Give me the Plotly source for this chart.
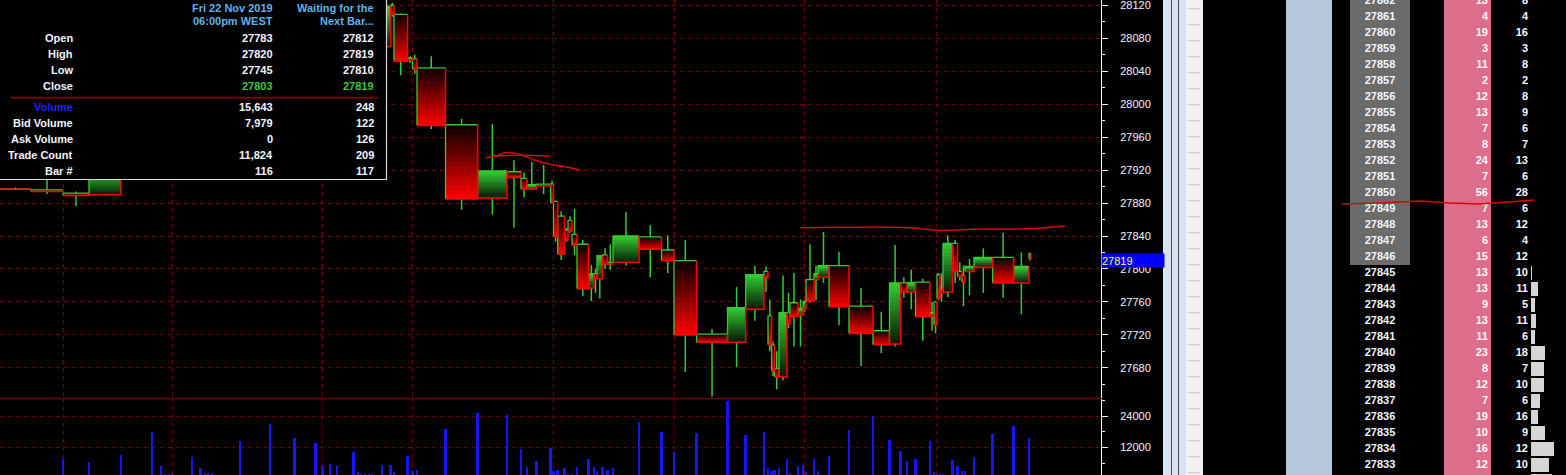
import plotly.graph_objects as go

W, H = 1566, 475
PLOT_R = 1101  # right edge of chart area (px)

# ---------------- data ----------------
bar_time = [31, 63, 89, 121, 152, 161, 165, 169, 172, 192, 200.6, 205, 208, 212, 240, 270, 294.6, 315.7,
            322.7, 330, 337, 353.5, 357.8, 361, 365, 369, 372, 382, 390.7, 394, 407.6, 412.5, 417, 445.5,
            477.7, 507, 521, 527, 536.6, 550.7, 553.5, 557.7, 564.7, 568, 572, 577, 588.6, 594, 597, 602.6,
            607.5, 613, 639, 661.5, 674, 696.6, 727.5, 745.7, 764, 768, 771.6, 774.5, 779, 787, 790, 798,
            803, 806, 814, 818, 829, 849, 873, 889.5, 900.7, 907, 915.5, 930, 934, 937, 940, 943, 952.6,
            957.6, 962, 965, 974, 992.6, 1013.7, 1029, 1031]
bar_open = [27897, 27896, 27892, 27890, 27918, 27955, 27950, 27948, 27951, 27953, 27985, 27980, 27982, 27979,
            27981, 28012, 28050, 28030, 28065, 28060, 28070, 28064, 28095, 28092, 28096, 28094, 28098, 28097,
            28070, 28120, 28109, 28054, 28055, 28044, 27975, 27886, 27918, 27910, 27897, 27903, 27903, 27882,
            27864, 27847, 27859, 27842, 27830, 27777, 27794, 27788, 27817, 27808, 27808, 27839, 27823, 27810,
            27721, 27711, 27751, 27797, 27743, 27708, 27679, 27669, 27747, 27759, 27744, 27751, 27787, 27787,
            27790, 27804, 27755, 27725, 27709, 27783, 27772, 27784, 27743, 27760, 27793, 27771, 27772, 27831,
            27797, 27792, 27797, 27802, 27814, 27783, 27812]
bar_high = [27899, 27912, 27894, 27925, 27962, 27960, 27953, 27952, 27955, 27990, 27992, 27984, 27986, 27983,
            28020, 28060, 28062, 28070, 28072, 28075, 28074, 28100, 28099, 28097, 28100, 28099, 28101, 28110,
            28124, 28123, 28110, 28058, 28060, 28058, 27982, 27976, 27932, 27917, 27930, 27926, 27907, 27883,
            27870, 27850, 27864, 27873, 27835, 27805, 27800, 27817, 27825, 27830, 27869, 27853, 27841, 27835,
            27727, 27778, 27804, 27803, 27763, 27712, 27700, 27792, 27771, 27795, 27763, 27762, 27830, 27804,
            27845, 27821, 27777, 27748, 27829, 27790, 27799, 27788, 27760, 27760, 27795, 27795, 27841, 27835,
            27808, 27804, 27812, 27825, 27844, 27820, 27819]
bar_low = [27896, 27891, 27876, 27889, 27912, 27945, 27946, 27944, 27949, 27950, 27975, 27976, 27978, 27975,
           27975, 28005, 28020, 28025, 28055, 28058, 28060, 28060, 28088, 28090, 28093, 28092, 28095, 28065,
           28066, 28106, 28035, 28050, 28037, 27970, 27872, 27866, 27850, 27887, 27896, 27891, 27879, 27833,
           27811, 27833, 27844, 27817, 27767, 27761, 27771, 27764, 27800, 27799, 27804, 27790, 27795, 27675,
           27645, 27681, 27737, 27772, 27700, 27670, 27654, 27665, 27728, 27706, 27706, 27748, 27759, 27762,
           27783, 27732, 27682, 27698, 27706, 27765, 27751, 27713, 27725, 27722, 27762, 27760, 27766, 27783,
           27786, 27755, 27768, 27771, 27765, 27745, 27810]
bar_close = [27897, 27894, 27889, 27918, 27955, 27950, 27948, 27951, 27953, 27985, 27980, 27982, 27979, 27981,
             28012, 28050, 28030, 28065, 28060, 28070, 28064, 28095, 28092, 28096, 28094, 28098, 28097, 28070,
             28119, 28109, 28052, 28056, 28042, 27974, 27885, 27919, 27911, 27897, 27902, 27901, 27880, 27839,
             27818, 27835, 27846, 27829, 27776, 27794, 27788, 27816, 27806, 27806, 27840, 27824, 27810, 27720,
             27711, 27753, 27793, 27789, 27708, 27676, 27669, 27747, 27733, 27742, 27752, 27760, 27761, 27794,
             27804, 27754, 27722, 27708, 27783, 27772, 27783, 27742, 27747, 27732, 27764, 27778, 27831, 27797,
             27791, 27784, 27803, 27814, 27783, 27803, 27819]
bar_volume = [1500, 7500, 6480, 9140, 17900, 4950, 1900, 1900, 1900, 8380, 4190, 2290, 2290, 2290, 14480, 20950,
              15620, 13710, 4950, 5710, 4950, 10290, 2670, 1900, 1900, 1900, 1900, 5330, 5330, 2670, 8760, 3050,
              3430, 19050, 25140, 24380, 11430, 4570, 6860, 11810, 3050, 3430, 4190, 1900, 1900, 4570, 7620,
              4570, 3050, 4570, 3430, 4190, 21710, 17900, 10290, 17520, 29710, 16760, 17900, 4190, 3050, 3430,
              4190, 7620, 2290, 4950, 5330, 2670, 7620, 3050, 8760, 18670, 24000, 14860, 10670, 6860, 7620,
              14480, 2670, 1900, 1900, 1900, 7240, 4950, 3050, 3050, 8380, 17140, 20190, 15643, 248]
hour_marks = [63, 172, 322, 412, 553, 674, 804, 936]

info_head_prev = ["Fri 22 Nov 2019", "06:00pm WEST"]
info_head_curr = ["Waiting for the", "Next Bar..."]
info_labels = ["Open", "High", "Low", "Close", "Volume", "Bid Volume", "Ask Volume", "Trade Count", "Bar #"]
info_prev = ["27783", "27820", "27745", "27803", "15,643", "7,979", "0", "11,824", "116"]
info_curr = ["27812", "27819", "27810", "27819", "248", "122", "126", "209", "117"]
last_price = 27819

dom_price = [27862, 27861, 27860, 27859, 27858, 27857, 27856, 27855, 27854, 27853, 27852, 27851, 27850, 27849,
             27848, 27847, 27846, 27845, 27844, 27843, 27842, 27841, 27840, 27839, 27838, 27837, 27836, 27835,
             27834, 27833]
dom_traded = [13, 4, 19, 3, 11, 2, 12, 13, 7, 8, 24, 7, 56, 7, 13, 6, 15, 13, 13, 9, 13, 11, 23, 8, 12, 7, 19,
              10, 16, 12]
dom_last = [8, 4, 16, 3, 8, 2, 8, 9, 6, 7, 13, 6, 28, 6, 12, 4, 12, 10, 11, 5, 11, 6, 18, 7, 10, 6, 16, 9, 12, 10]
dom_ask_from = 27846
depth_price = [27845, 27844, 27843, 27842, 27841, 27840, 27839, 27838, 27837, 27836, 27835, 27834, 27833, 27832]
depth_size = [1, 7, 4, 5, 4, 14, 13, 13, 9, 7, 14, 23, 18, 21]

drawn_a_t = [486, 496, 505, 512, 522, 535, 550, 565, 580]
drawn_a_p = [27935, 27937, 27941, 27941, 27938, 27932, 27927, 27924, 27920]
drawn_b_t = [493, 520, 550]
drawn_b_p = [27937, 27938, 27937]
drawn_level_t = [800, 840, 873, 910, 940, 980, 1020, 1045, 1065]
drawn_level_p = [27850, 27850.5, 27851, 27850, 27847, 27848.5, 27848.5, 27850, 27852]
dom_mark_x = [1342, 1380, 1420, 1450, 1480, 1510, 1534]
dom_mark_p = [27849.31, 27849.37, 27849.5, 27849.37, 27849.31, 27849.44, 27849.56]

# ---------------- style ----------------
FONT = "Liberation Sans"
WEIGHT = "bold"
GRID = "#6e0000"
GREEN = "#33cc33"
RED = "#ff0000"
TXT = "#f4f6ff"


def px(x):
    return x / W


def py(y):
    return 1 - y / H


def mix(c1, c2, f):
    return "rgb(%d,%d,%d)" % tuple(round(a + (b - a) * f) for a, b in zip(c1, c2))


fig = go.Figure()

n = len(bar_time)
t_start = [0] + bar_time[:-1]

# wicks (split so they never cross the bodies)
wx, wy = [], []
for i in range(n):
    c = (t_start[i] + bar_time[i]) / 2
    top = max(bar_open[i], bar_close[i])
    bot = min(bar_open[i], bar_close[i])
    if bar_high[i] > top:
        wx += [c, c, None]; wy += [bar_high[i], top, None]
    if bar_low[i] < bot:
        wx += [c, c, None]; wy += [bot, bar_low[i], None]
fig.add_trace(go.Scatter(x=wx, y=wy, mode="lines", line=dict(color=GREEN, width=1.5),
                         hoverinfo="skip", xaxis="x", yaxis="y"))

# bodies with vertical gradient (stacked slices)
NS = 16
sx, sw, sb, sh, sc = [], [], [], [], []
for i in range(n):
    top = max(bar_open[i], bar_close[i])
    bot = min(bar_open[i], bar_close[i])
    rng = max(top - bot, 0.6)
    bull = bar_close[i] > bar_open[i]
    for k in range(NS):
        f = (k + 0.5) / NS  # 0 bottom -> 1 top
        sx.append((t_start[i] + bar_time[i]) / 2)
        sw.append(bar_time[i] - t_start[i])
        sb.append(bot + rng * k / NS)
        sh.append(rng / NS)
        if bull:
            sc.append(mix((6, 22, 6), (52, 205, 52), f))
        else:
            sc.append(mix((255, 0, 0), (8, 0, 0), f))
fig.add_trace(go.Bar(x=sx, y=sh, base=sb, width=sw, marker=dict(color=sc, line=dict(width=0)),
                     hoverinfo="skip", xaxis="x", yaxis="y"))

# bevel outlines
gx, gy, rx, ry = [], [], [], []
for i in range(n):
    top = max(bar_open[i], bar_close[i])
    bot = min(bar_open[i], bar_close[i])
    x0, x1 = t_start[i], bar_time[i]
    gx += [x0, x0, x1, None]; gy += [bot, top, top, None]
    rx += [x1, x1, x0, None]; ry += [top, bot, bot, None]
fig.add_trace(go.Scatter(x=gx, y=gy, mode="lines", line=dict(color=GREEN, width=1.3),
                         hoverinfo="skip", xaxis="x", yaxis="y"))
fig.add_trace(go.Scatter(x=rx, y=ry, mode="lines", line=dict(color=RED, width=1.5),
                         hoverinfo="skip", xaxis="x", yaxis="y"))

# hand drawn lines on the chart
for tx, tp in [(drawn_a_t, drawn_a_p), (drawn_b_t, drawn_b_p), (drawn_level_t, drawn_level_p)]:
    fig.add_trace(go.Scatter(x=tx, y=tp, mode="lines", line=dict(color="#e00000", width=1.5, shape="spline"),
                             hoverinfo="skip", xaxis="x", yaxis="y"))

# volume
fig.add_trace(go.Bar(x=bar_time, y=bar_volume, width=2.6, marker=dict(color="#1414ff", line=dict(width=0)),
                     hoverinfo="skip", xaxis="x2", yaxis="y2"))

# ---------------- DOM ladder ----------------
ask_rows = [p for p in dom_price if p >= dom_ask_from]
fig.add_trace(go.Bar(y=ask_rows, x=[60] * len(ask_rows), base=1350, orientation="h", width=1.0,
                     marker=dict(color="#6b6b6b", line=dict(width=0)), hoverinfo="skip",
                     xaxis="x3", yaxis="y3"))
fig.add_trace(go.Bar(y=depth_price, x=depth_size, base=1531, orientation="h", width=0.9,
                     marker=dict(color="#d6d6d6", line=dict(width=0)), hoverinfo="skip",
                     xaxis="x3", yaxis="y3"))
dfont = dict(family=FONT, size=11, color=TXT, weight=WEIGHT)
fig.add_trace(go.Scatter(x=[1380] * len(dom_price), y=dom_price, mode="text", text=[str(p) for p in dom_price],
                         textposition="middle center", textfont=dfont, hoverinfo="skip",
                         xaxis="x3", yaxis="y3"))
fig.add_trace(go.Scatter(x=[1488] * len(dom_price), y=dom_price, mode="text", text=[str(v) for v in dom_traded],
                         textposition="middle left", textfont=dfont, hoverinfo="skip",
                         xaxis="x3", yaxis="y3"))
fig.add_trace(go.Scatter(x=[1528] * len(dom_price), y=dom_price, mode="text", text=[str(v) for v in dom_last],
                         textposition="middle left", textfont=dfont, hoverinfo="skip",
                         xaxis="x3", yaxis="y3"))
fig.add_trace(go.Scatter(x=dom_mark_x, y=dom_mark_p, mode="lines", line=dict(color="#e00000", width=1.5),
                         hoverinfo="skip", xaxis="x3", yaxis="y3"))

# ---------------- shapes ----------------
shapes = []


def rect(x0, y0, x1, y1, fill, line=None, layer="below"):
    shapes.append(dict(type="rect", xref="paper", yref="paper", x0=px(x0), x1=px(x1), y0=py(y1), y1=py(y0),
                       fillcolor=fill, line=dict(width=0) if line is None else line, layer=layer))


def hline(x0, x1, y, color, width=1, layer="below"):
    shapes.append(dict(type="line", xref="paper", yref="paper", x0=px(x0), x1=px(x1), y0=py(y), y1=py(y),
                       line=dict(color=color, width=width), layer=layer))


def vline(x, y0, y1, color, width=1):
    shapes.append(dict(type="line", xref="paper", yref="paper", x0=px(x), x1=px(x), y0=py(y0), y1=py(y1),
                       line=dict(color=color, width=width), layer="below"))


rect(1163, 0, 1186, H, "#d7e3f1")
vline(1171.5, 0, H, "#505050")
vline(1178.5, 0, H, "#505050")
rect(1186, 0, 1203, H, "#f0f0f0")
yy = 8.7
while yy < H:
    hline(1188, 1200, yy, "#c4c4c4")
    yy += 16
rect(1286, 0, 1332, H, "#b5c7dd")
rect(1444, 0, 1491, H, "#dc6e8c")

# separator between price and volume panes
hline(0, PLOT_R, 398.5, "#7a0000", 1.5, layer="above")

# info box
rect(-2, -2, 386.5, 179.5, "#000000", line=dict(color="#d8d8d8", width=1.2), layer="above")
hline(11, 378, 97.7, "#7a0a0a", 1.8, layer="above")

annotations = []


def txt(x, y, s, color=TXT, anchor="right"):
    annotations.append(dict(xref="paper", yref="paper", x=px(x), y=py(y), text=s, showarrow=False,
                            xanchor=anchor, yanchor="middle",
                            font=dict(family=FONT, size=11, color=color, weight=WEIGHT)))


head_col = "#5cb4ee"
for j, (a, b) in enumerate(zip(info_head_prev, info_head_curr)):
    txt(275, 8 + 13 * j, a, head_col)
    txt(376, 8 + 13 * j, b, head_col)
row_y = [38, 54, 70, 86, 107, 123, 139, 155, 171]
for lab, v1, v2, ry_ in zip(info_labels, info_prev, info_curr, row_y):
    txt(75, ry_, lab, "#2222ff" if lab == "Volume" else TXT)
    vc = "#3cc83c" if lab == "Close" else TXT
    txt(275, ry_, v1, vc)
    txt(376, ry_, v2, vc)

# current price marker
annotations.append(dict(xref="paper", yref="y", x=px(PLOT_R), y=last_price, text=str(last_price),
                        showarrow=False, xanchor="left", yanchor="top", align="left", width=62, height=13,
                        bgcolor="#0000ff", borderpad=0,
                        font=dict(family=FONT, size=11, color="#ffff33")))

axfont = dict(family=FONT, size=11, color=TXT)
fig.update_layout(
    width=W, height=H, margin=dict(l=0, r=0, t=0, b=0),
    paper_bgcolor="#000000", plot_bgcolor="rgba(0,0,0,0)",
    showlegend=False, barmode="overlay", bargap=0,
    shapes=shapes, annotations=annotations,
    xaxis=dict(domain=[0, PLOT_R / W], range=[0, PLOT_R], anchor="y", tickmode="array", tickvals=hour_marks,
               showticklabels=False, ticks="", showgrid=True, gridcolor=GRID, griddash="4px,4px", gridwidth=1,
               zeroline=False, showline=False),
    yaxis=dict(domain=[1 - 398 / H, 1], range=[27643.4, 28126.4], anchor="x", side="right",
               tickmode="linear", tick0=0, dtick=40, tickformat="d", ticks="outside", ticklen=6,
               tickcolor="#ffffff", showline=True, linecolor="#ffffff", linewidth=1, tickfont=axfont,
               ticklabelstandoff=10, ticklabeloverflow="allow", showgrid=True, gridcolor=GRID,
               griddash="4px,4px", zeroline=False,
               minor=dict(dtick=20, ticks="outside", ticklen=3, tickcolor="#ffffff", showgrid=False)),
    xaxis2=dict(domain=[0, PLOT_R / W], range=[0, PLOT_R], anchor="y2", matches="x", tickmode="array",
                tickvals=hour_marks, showticklabels=False, ticks="", showgrid=True, gridcolor=GRID,
                griddash="4px,4px", zeroline=False, showline=False),
    yaxis2=dict(domain=[0, 76 / H], range=[1524, 30476], anchor="x2", side="right",
                tickmode="linear", tick0=0, dtick=12000, tickformat="d", ticks="outside", ticklen=6,
                tickcolor="#ffffff", showline=True, linecolor="#ffffff", linewidth=1, tickfont=axfont,
                ticklabelstandoff=10, showgrid=True, gridcolor=GRID, griddash="4px,4px", zeroline=False,
                minor=dict(dtick=6000, ticks="outside", ticklen=3, tickcolor="#ffffff", showgrid=False)),
    xaxis3=dict(domain=[1332 / W, 1], range=[1332, W], anchor="y3", visible=False),
    yaxis3=dict(domain=[0, 1], range=[27832.375, 27862.0625], anchor="x3", visible=False),
)

fig.write_html("out.html", config={"displayModeBar": False},
               post_script="document.body.style.margin='0';document.body.style.overflow='hidden';")
